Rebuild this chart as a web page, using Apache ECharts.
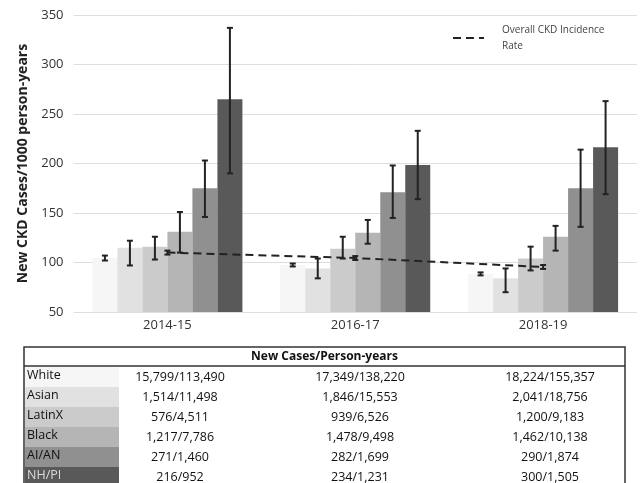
<!DOCTYPE html>
<html><head><meta charset="utf-8">
<script src="https://cdn.jsdelivr.net/npm/echarts@6/dist/echarts.min.js"></script>
<style>html,body{margin:0;padding:0;background:#fff}#c{width:640px;height:483px}</style>
</head><body><div id="c"></div>
<script>
const categories = ['2014-15', '2016-17', '2018-19'];
const races = ['White', 'Asian', 'LatinX', 'Black', 'AI/AN', 'NH/PI'];
const raceColors = ['#f6f6f6', '#e1e1e1', '#cbcbcb', '#b5b5b5', '#909090', '#595959'];
// bar heights (per 1000 person-years), one array per race
const whiteRate = [104.5, 97.5, 88.4];
const asianRate = [115, 94, 84];
const latinxRate = [116, 114, 104];
const blackRate = [131, 130, 126];
const aianRate = [175, 171, 175];
const nhpiRate = [265, 198.5, 216.5];
// confidence intervals [low, high]
const whiteCI = [[102, 107], [96, 99], [87, 90]];
const asianCI = [[97, 122], [84, 104], [70, 94]];
const latinxCI = [[103, 126], [104, 126], [92, 116]];
const blackCI = [[110, 151], [119, 143], [112, 137]];
const aianCI = [[146, 203], [145, 198], [136, 214]];
const nhpiCI = [[190, 337], [164, 233], [169, 263]];
// overall incidence rate
const overallRate = [110, 104.5, 95.5];
const overallCI = [[108, 112], [102.5, 106.5], [93.5, 97.5]];
const overallName = 'Overall CKD Incidence\nRate';
const yTicks = {min: 50, max: 350, interval: 50};
// table
const tableTitle = 'New Cases/Person-years';
const cases2014 = ['15,799/113,490', '1,514/11,498', '576/4,511', '1,217/7,786', '271/1,460', '216/952'];
const cases2016 = ['17,349/138,220', '1,846/15,553', '939/6,526', '1,478/9,498', '282/1,699', '234/1,231'];
const cases2018 = ['18,224/155,357', '2,041/18,756', '1,200/9,183', '1,462/10,138', '290/1,874', '300/1,505'];

const rates = [whiteRate, asianRate, latinxRate, blackRate, aianRate, nhpiRate];
const cis = [whiteCI, asianCI, latinxCI, blackCI, aianCI, nhpiCI];
const BW = 25;
const FONT = '"Open Sans", sans-serif';

function errRender(offsetPx) {
  return function (params, api) {
    const c = api.value(0);
    const lo = api.coord([c, api.value(1)]);
    const hi = api.coord([c, api.value(2)]);
    const x = lo[0] + offsetPx;
    const w = 3;
    const st = {stroke: '#222', lineWidth: 2};
    return {type: 'group', children: [
      {type: 'line', shape: {x1: x, y1: lo[1], x2: x, y2: hi[1]}, style: st},
      {type: 'line', shape: {x1: x - w, y1: lo[1], x2: x + w, y2: lo[1]}, style: st},
      {type: 'line', shape: {x1: x - w, y1: hi[1], x2: x + w, y2: hi[1]}, style: st}
    ]};
  };
}

const series = [];
races.forEach((r, i) => {
  series.push({
    name: r, type: 'bar', data: rates[i], barWidth: BW, barGap: '0%',
    itemStyle: {color: raceColors[i]}, z: 2, silent: true
  });
});
races.forEach((r, i) => {
  series.push({
    name: r + ' CI', type: 'custom', z: 5, silent: true,
    renderItem: errRender((i - 2.5) * BW),
    encode: {x: 0, y: [1, 2]},
    data: cis[i].map((v, k) => [k, v[0], v[1]])
  });
});
series.push({
  name: overallName, type: 'line', data: overallRate, symbol: 'none', z: 6,
  lineStyle: {color: '#222', width: 2, type: [8, 5]}, itemStyle: {color: '#222'}
});
series.push({
  name: 'Overall CI', type: 'custom', z: 7, silent: true,
  renderItem: errRender(0), encode: {x: 0, y: [1, 2]},
  data: overallCI.map((v, k) => [k, v[0], v[1]])
});

// table graphics
const tL = 24, tR = 625, tTop = 347, hdrB = 366, rowH = 20;
const colX = [180, 360, 550];
const g = [];
races.forEach((r, i) => {
  g.push({type: 'rect', left: tL + 1, top: hdrB + 1 + i * rowH, shape: {width: 94, height: rowH},
    style: {fill: raceColors[i]}, z: 1});
  g.push({type: 'text', left: tL + 3, top: hdrB + 3 + i * rowH,
    style: {text: r, font: '12.5px ' + FONT, fill: i === 5 ? '#ddd' : '#111'}, z: 2});
  [cases2014, cases2016, cases2018].forEach((col, j) => {
    g.push({type: 'text', x: colX[j], y: hdrB + 11 + i * rowH,
      style: {text: col[i], font: '12.5px ' + FONT, fill: '#111', align: 'center', verticalAlign: 'middle'}, z: 2});
  });
});
g.push({type: 'polyline', shape: {points: [[tL, 483], [tL, tTop], [tR, tTop], [tR, 483]]},
  style: {stroke: '#333', lineWidth: 1.5, fill: null}, z: 3});
g.push({type: 'line', shape: {x1: tL, y1: hdrB, x2: tR, y2: hdrB}, style: {stroke: '#333', lineWidth: 1.5}, z: 3});
g.push({type: 'text', x: (tL + tR) / 2, y: (tTop + hdrB) / 2,
  style: {text: tableTitle, font: 'bold 12px ' + FONT, fill: '#111', align: 'center', verticalAlign: 'middle'}, z: 3});

const chart = echarts.init(document.getElementById('c'));
chart.setOption({
  animation: false,
  backgroundColor: '#fff',
  grid: {left: 73.5, right: 3, top: 15, bottom: 171, containLabel: false},
  legend: {
    data: [{name: overallName, itemStyle: {opacity: 0}}], left: 447, top: 17, itemWidth: 31, itemHeight: 10,
    textStyle: {fontFamily: FONT, fontSize: 10, color: '#444', lineHeight: 16, padding: [0, 0, 0, 13]}
  },
  xAxis: {
    type: 'category', data: categories,
    axisLine: {show: false}, axisTick: {show: false},
    axisLabel: {fontFamily: FONT, fontSize: 13, color: '#333', margin: 7}
  },
  yAxis: {
    type: 'value', min: yTicks.min, max: yTicks.max, interval: yTicks.interval,
    name: 'New CKD Cases/1000 person-years', nameLocation: 'middle', nameGap: 40,
    nameTextStyle: {fontFamily: FONT, fontSize: 14, fontWeight: 'bold', color: '#222'},
    axisLabel: {fontFamily: FONT, fontSize: 13, color: '#333', margin: 10},
    axisLine: {show: false}, axisTick: {show: false},
    splitLine: {lineStyle: {color: '#dedede', width: 1}}
  },
  series: series,
  graphic: g
});
</script></body></html>
